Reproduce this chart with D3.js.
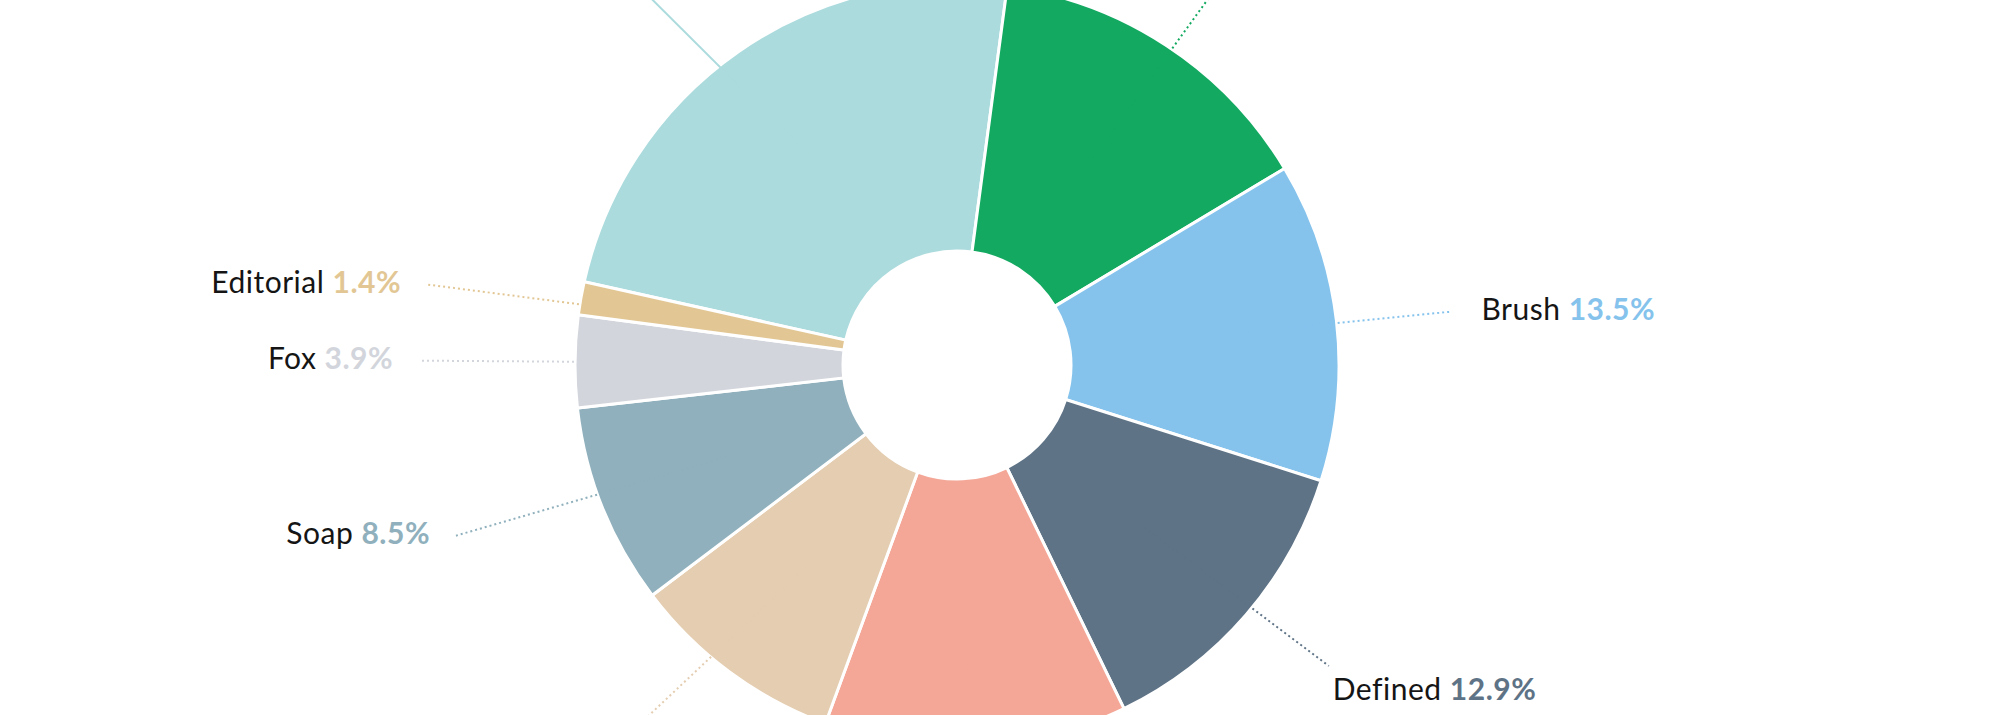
<!DOCTYPE html>
<html>
<head>
<meta charset="utf-8">
<script src="https://cdn.jsdelivr.net/npm/d3@7"></script>
<style>
  html, body { margin: 0; padding: 0; background: #ffffff; overflow: hidden; }
  svg { display: block; }
  text { font-family: Lato, "Noto Sans", sans-serif; }
</style>
</head>
<body>
<svg id="chart" width="2000" height="715"></svg>
<script>
// ---- data ----
const categories = ["Modern", "Organic", "Brush", "Defined", "Vintage", "Handwritten", "Soap", "Fox", "Editorial"];
const shares     = [23.6, 14.3, 13.5, 12.9, 12.8, 9.1, 8.5, 3.9, 1.4];
const colors     = ["#acdbdd", "#13a961", "#85c3ed", "#5e7386", "#f4a797", "#e4cdb0", "#8fb0bc", "#d3d5dc", "#e2c795"];

// ---- layout ----
const width = 2000, height = 715;
const cx = 957, cy = 365;
const rOuter = 382, rInner = 114;
const labelRx = 518, labelRy = 460, labelShiftX = -20;
const startAngle = -77.4 * Math.PI / 180;

const rows = categories.map((name, i) => ({ name, value: shares[i], color: colors[i] }));

const svg = d3.select("#chart");
const g = svg.append("g").attr("transform", `translate(${cx},${cy})`);

const pie = d3.pie()
  .sort(null)
  .value(d => d.value)
  .startAngle(startAngle)
  .endAngle(startAngle + 2 * Math.PI);

const arc = d3.arc().innerRadius(rInner).outerRadius(rOuter);
const arcs = pie(rows);
const fmt = v => d3.format(".1f")(v) + "%";

// slices
g.selectAll("path.slice")
  .data(arcs)
  .join("path")
  .attr("class", "slice")
  .attr("d", arc)
  .attr("fill", d => d.data.color)
  .attr("stroke", "#ffffff")
  .attr("stroke-width", 3);

function anchorOf(d) {
  const a = (d.startAngle + d.endAngle) / 2;
  return [labelShiftX + labelRx * Math.sin(a), -labelRy * Math.cos(a), a];
}

// leader lines
g.selectAll("line.leader")
  .data(arcs)
  .join("line")
  .attr("class", "leader")
  .attr("x1", d => arc.centroid(d)[0])
  .attr("y1", d => arc.centroid(d)[1])
  .attr("x2", d => anchorOf(d)[0])
  .attr("y2", d => anchorOf(d)[1])
  .attr("stroke", d => d.data.color)
  .attr("stroke-width", 2)
  .attr("stroke-dasharray", (d, i) => i === 0 ? null : "2,3");

// labels (only those whose anchor falls inside the visible frame)
const visible = arcs.filter(d => {
  const y = anchorOf(d)[1] + cy;
  return y > 0 && y < height;
});

g.selectAll("text.label")
  .data(visible)
  .join("text")
  .attr("class", "label")
  .attr("font-size", 30)
  .attr("letter-spacing", 0.5)
  .each(function (d) {
    const [x, y, a] = anchorOf(d);
    const s = Math.sin(a), c = Math.cos(a);
    const right = s > 0;
    let tx, ty;
    if (Math.abs(c) > 0.5) {
      tx = x + (right ? 4 : -4);
      ty = c < 0 ? y + 34 : y - 16;
    } else {
      tx = x + (right ? 30 : -26);
      ty = y + 8;
    }
    const t = d3.select(this)
      .attr("x", tx)
      .attr("y", ty)
      .attr("text-anchor", right ? "start" : "end");
    t.append("tspan").attr("fill", "#151515").attr("font-weight", 400).text(d.data.name + " ");
    t.append("tspan").attr("fill", d.data.color).attr("font-weight", 700).text(fmt(d.data.value));
  });
</script>
</body>
</html>
